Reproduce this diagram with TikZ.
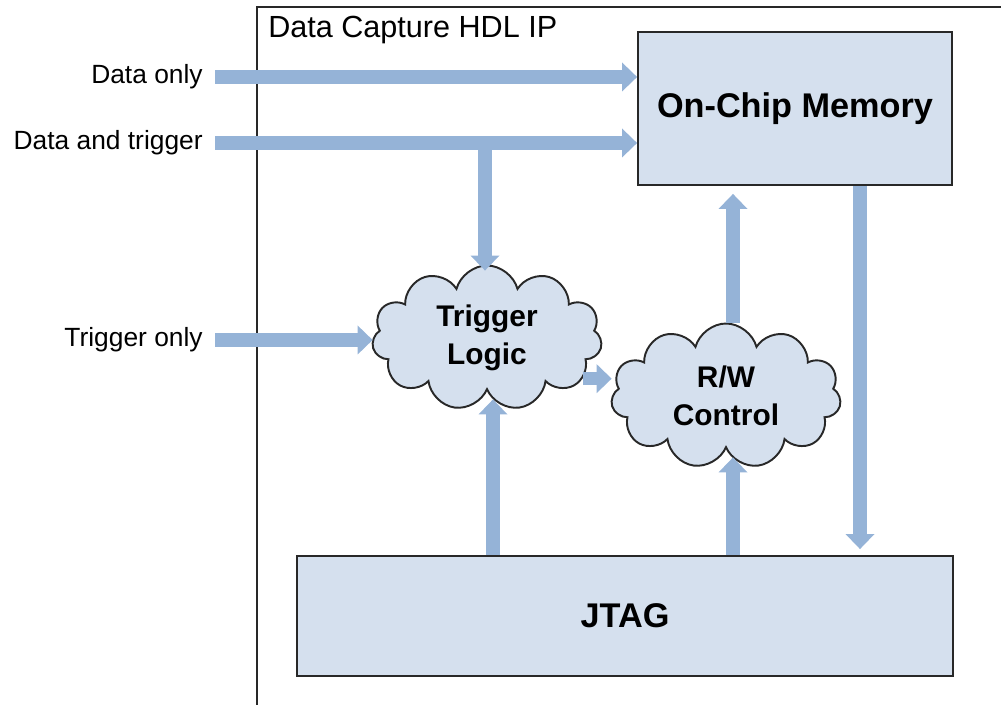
\documentclass[tikz,border=0pt]{standalone}
\usepackage{fontspec}
\setmainfont{Liberation Sans}
\usetikzlibrary{positioning,arrows.meta,shapes.symbols,calc}
\definecolor{framegray}{RGB}{40,40,40}
\definecolor{blockblue}{RGB}{213,224,238}
\definecolor{flowblue}{RGB}{149,179,215}
\colorlet{blockdraw}{framegray}

\begin{document}
\begin{tikzpicture}[x=0.02cm,y=-0.02cm,every node/.style={font=\fontsize{15}{18}\selectfont},
  box/.style={draw=blockdraw,fill=blockblue,line width=1.1pt,inner sep=0pt,font=\bfseries\fontsize{19.5}{23}\selectfont},
  cloudbox/.style={cloud,cloud puffs=11,cloud ignores aspect,draw=blockdraw,fill=blockblue,line width=1.1pt,minimum width=4.6cm,minimum height=2.9cm,align=center,font=\bfseries\fontsize{17}{21.5}\selectfont},
  flow/.style={draw=flowblue,line width=0.27cm,-{Triangle[width=0.58cm,length=0.3cm,line width=0pt]}},
  lbl/.style={inner sep=0pt}]
    \useasboundingbox (0,0) rectangle (1001,705);
    \draw[framegray,line width=0.85pt] (257,720) -- (257,7) -- (1020,7);
    \node[anchor=base west,inner sep=0pt,font=\fontsize{17.4}{20}\selectfont] (title) at (268,38) {Data Capture HDL IP};
    \node[box,minimum width=6.28cm,minimum height=3.06cm] (mem) at (795,108.5) {On-Chip Memory};
    \node[box,minimum width=13.12cm,minimum height=2.4cm] (jtag) at (625,616) {JTAG};
    \node[cloudbox] (trig) at (487,338) {Trigger\\Logic};
    \node[cloudbox] (rw) at (726,396) {R/W\\Control};
    \coordinate (din) at (215,77);
    \coordinate (dtin) at (215,143);
    \coordinate (tin) at (215,340);
    \coordinate (split) at (485,143);
    \node[lbl,left=0.24cm of din] (dinl) {Data only};
    \node[lbl,left=0.24cm of dtin] (dtinl) {Data and trigger};
    \node[lbl,left=0.24cm of tin] (tinl) {Trigger only};
    \draw[flow] (din) -- (din -| mem.west);
    \draw[flow] (dtin) -- (dtin -| mem.west);
    \draw[flow,shorten >=-0.12cm] (split) -- (split |- trig.north);
    \draw[flow] (tin) -- (tin -| trig.west);
    \draw[flow] (trig.-23) -- (trig.-23 -| rw.west);
    \draw[flow,shorten >=0.16cm] (733,0 |- rw.north) -- (733,0 |- mem.south);
    \draw[flow,shorten >=0.12cm] (860,0 |- mem.south) -- (860,0 |- jtag.north);
    \draw[flow,shorten >=0.16cm] (493,0 |- jtag.north) -- (493,0 |- trig.south);
    \draw[flow,shorten >=0.16cm] (733,0 |- jtag.north) -- (733,0 |- rw.south);
  \end{tikzpicture}
\end{document}
